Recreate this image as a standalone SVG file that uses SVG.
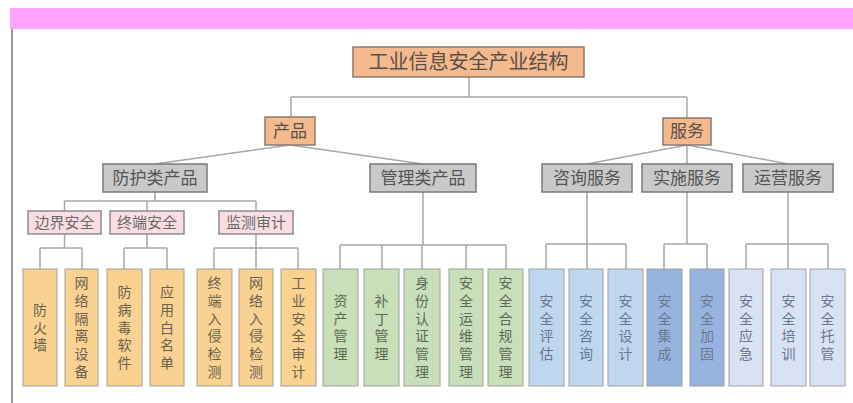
<svg xmlns="http://www.w3.org/2000/svg" width="853" height="403" viewBox="0 0 853 403">
<style>
text{font-family:"Noto Sans CJK SC","Noto Sans",sans-serif;text-anchor:middle}
.c{stroke:#a8a8a8;stroke-width:1.5;fill:none}
.top{fill:#F4B98D;stroke:#8a7a6e;stroke-width:1.5}
.gray{fill:#C9C9C9;stroke:#7a7a7a;stroke-width:1.5}
.pink{fill:#F9DDE3;stroke:#8c8c8c;stroke-width:1.5}
.lf{stroke:#a0a0a0;stroke-width:1}
.o{fill:#F9D191}
.g{fill:#C9DFB9}
.b{fill:#BED6EE}
.m{fill:#97B4E0}
.p{fill:#D9E2F3}
.t1{font-size:20px;fill:#5a5048}
.t2{font-size:17px;fill:#5a5048}
.t3{font-size:17px;fill:#555}
.t4{font-size:15px;fill:#6a6a6a}
.lt{font-size:14px;fill:#6b6250}
.lg{font-size:14px;fill:#5f6a55}
.lb{font-size:14px;fill:#6a7890}
</style>
<rect x="0" y="0" width="853" height="403" fill="#ffffff"/>
<rect x="10" y="8" width="843" height="21" fill="#FFA3FF"/>
<line x1="12" y1="29" x2="12" y2="403" stroke="#9a9a9a" stroke-width="2"/>
<g id="connectors">
<path class="c" d="M469 77V97M291 97H687M291 97V117M687 97V118"/>
<path class="c" d="M290 145L155 164M290 145L423 164"/>
<path class="c" d="M687 145L587 164M687 145V164M687 145L788 164"/>
<path class="c" d="M155 192V201M64.5 201H256M64.5 201V211M147 201V211M256 201V211"/>
<path class="c" d="M64.5 234V248M40 248H82M40 248V269M82 248V269"/>
<path class="c" d="M147 234V248M124 248H167M124 248V269M167 248V269"/>
<path class="c" d="M256 234V248M214 248H298M214 248V269M256 248V269M298 248V269"/>
<path class="c" d="M423 192V245M340 245H506M340 245V269M382 245V269M422 245V269M466 245V269M506 245V269"/>
<path class="c" d="M587 192V244M546 244H626M546 244V269M587 244V269M626 244V269"/>
<path class="c" d="M687 192V244M664 244H707M664 244V269M707 244V269"/>
<path class="c" d="M788 192V244M746 244H828M746 244V269M788 244V269M828 244V269"/>
</g>
<g id="root"><rect class="top" x="353" y="47" width="231" height="30"/><text class="t1" x="468.5" y="69">工业信息安全产业结构</text></g>
<g id="chanpin"><rect class="top" x="265" y="117" width="50" height="28"/><text class="t2" x="290" y="137">产品</text></g>
<g id="fuwu"><rect class="top" x="663" y="118" width="48" height="27"/><text class="t2" x="687" y="137">服务</text></g>
<g id="fanghu"><rect class="gray" x="103" y="164" width="104" height="28"/><text class="t3" x="155" y="184">防护类产品</text></g>
<g id="guanli"><rect class="gray" x="370" y="164" width="106" height="28"/><text class="t3" x="423" y="184">管理类产品</text></g>
<g id="zixun"><rect class="gray" x="542" y="164" width="90" height="28"/><text class="t3" x="587" y="184">咨询服务</text></g>
<g id="shishi"><rect class="gray" x="642" y="164" width="90" height="28"/><text class="t3" x="687" y="184">实施服务</text></g>
<g id="yunying"><rect class="gray" x="743" y="164" width="90" height="28"/><text class="t3" x="788" y="184">运营服务</text></g>
<g id="bianjie"><rect class="pink" x="28" y="211" width="73" height="23"/><text class="t4" x="64.5" y="228">边界安全</text></g>
<g id="zhongduan"><rect class="pink" x="110" y="211" width="74" height="23"/><text class="t4" x="147" y="228">终端安全</text></g>
<g id="jiance"><rect class="pink" x="219" y="211" width="74" height="23"/><text class="t4" x="256" y="228">监测审计</text></g>
<g id="l1"><rect class="lf o" x="23" y="269" width="34" height="117"/><text class="lt" x="40 40 40" y="314.7 332.5 350.3">防火墙</text></g>
<g id="l2"><rect class="lf o" x="65" y="269" width="33" height="117"/><text class="lt" x="81.5 81.5 81.5 81.5 81.5 81.5" y="288 305.8 323.6 341.4 359.2 377">网络隔离设备</text></g>
<g id="l3"><rect class="lf o" x="107" y="269" width="35" height="117"/><text class="lt" x="124.5 124.5 124.5 124.5 124.5" y="296.9 314.7 332.5 350.3 368.1">防病毒软件</text></g>
<g id="l4"><rect class="lf o" x="150" y="269" width="34" height="117"/><text class="lt" x="167 167 167 167 167" y="296.9 314.7 332.5 350.3 368.1">应用白名单</text></g>
<g id="l5"><rect class="lf o" x="197" y="269" width="35" height="117"/><text class="lt" x="214.5 214.5 214.5 214.5 214.5 214.5" y="288 305.8 323.6 341.4 359.2 377">终端入侵检测</text></g>
<g id="l6"><rect class="lf o" x="239" y="269" width="34" height="117"/><text class="lt" x="256 256 256 256 256 256" y="288 305.8 323.6 341.4 359.2 377">网络入侵检测</text></g>
<g id="l7"><rect class="lf o" x="281" y="269" width="35" height="117"/><text class="lt" x="298.5 298.5 298.5 298.5 298.5 298.5" y="288 305.8 323.6 341.4 359.2 377">工业安全审计</text></g>
<g id="l8"><rect class="lf g" x="323" y="269" width="35" height="117"/><text class="lg" x="340.5 340.5 340.5 340.5" y="305.8 323.6 341.4 359.2">资产管理</text></g>
<g id="l9"><rect class="lf g" x="364" y="269" width="35" height="117"/><text class="lg" x="381.5 381.5 381.5 381.5" y="305.8 323.6 341.4 359.2">补丁管理</text></g>
<g id="l10"><rect class="lf g" x="404" y="269" width="36" height="117"/><text class="lg" x="422 422 422 422 422 422" y="288 305.8 323.6 341.4 359.2 377">身份认证管理</text></g>
<g id="l11"><rect class="lf g" x="449" y="269" width="34" height="117"/><text class="lg" x="466 466 466 466 466 466" y="288 305.8 323.6 341.4 359.2 377">安全运维管理</text></g>
<g id="l12"><rect class="lf g" x="488" y="269" width="35" height="117"/><text class="lg" x="505.5 505.5 505.5 505.5 505.5 505.5" y="288 305.8 323.6 341.4 359.2 377">安全合规管理</text></g>
<g id="l13"><rect class="lf b" x="529" y="269" width="35" height="117"/><text class="lb" x="546.5 546.5 546.5 546.5" y="305.8 323.6 341.4 359.2">安全评估</text></g>
<g id="l14"><rect class="lf b" x="569" y="269" width="34" height="117"/><text class="lb" x="586 586 586 586" y="305.8 323.6 341.4 359.2">安全咨询</text></g>
<g id="l15"><rect class="lf b" x="608" y="269" width="35" height="117"/><text class="lb" x="625.5 625.5 625.5 625.5" y="305.8 323.6 341.4 359.2">安全设计</text></g>
<g id="l16"><rect class="lf m" x="647" y="269" width="35" height="117"/><text class="lb" x="664.5 664.5 664.5 664.5" y="305.8 323.6 341.4 359.2">安全集成</text></g>
<g id="l17"><rect class="lf m" x="690" y="269" width="34" height="117"/><text class="lb" x="707 707 707 707" y="305.8 323.6 341.4 359.2">安全加固</text></g>
<g id="l18"><rect class="lf p" x="729" y="269" width="34" height="117"/><text class="lb" x="746 746 746 746" y="305.8 323.6 341.4 359.2">安全应急</text></g>
<g id="l19"><rect class="lf p" x="771" y="269" width="35" height="117"/><text class="lb" x="788.5 788.5 788.5 788.5" y="305.8 323.6 341.4 359.2">安全培训</text></g>
<g id="l20"><rect class="lf p" x="810" y="269" width="35" height="117"/><text class="lb" x="827.5 827.5 827.5 827.5" y="305.8 323.6 341.4 359.2">安全托管</text></g>
</svg>
